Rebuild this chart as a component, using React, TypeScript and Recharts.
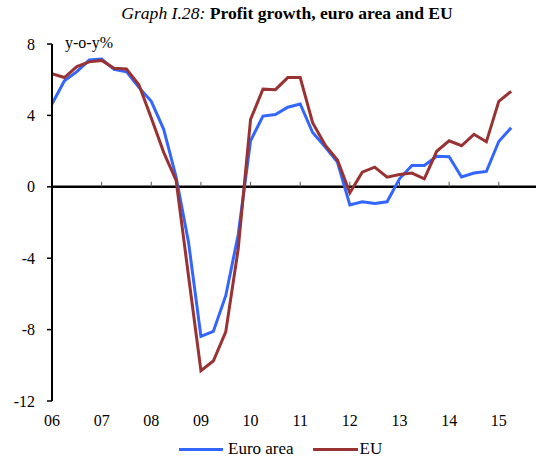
import React from 'react'
import { LineChart, Line, XAxis, YAxis, ReferenceLine } from 'recharts'

// quarterly, 2006Q1 .. 2015Q2
const yearLabels = ['06', '07', '08', '09', '10', '11', '12', '13', '14', '15']

const euroArea = [
  4.64, 5.94, 6.45, 7.1, 7.16, 6.58, 6.45, 5.57, 4.79, 3.22,
  0.55, -3.1, -8.38, -8.1, -6.1, -2.7, 2.58, 3.96, 4.05, 4.46,
  4.64, 3.04, 2.24, 1.38, -1.02, -0.84, -0.93, -0.84, 0.45, 1.19,
  1.19, 1.71, 1.69, 0.55, 0.77, 0.86, 2.54, 3.31,
]

const eu = [
  6.33, 6.12, 6.73, 7.0, 7.08, 6.64, 6.6, 5.72, 3.85, 1.93,
  0.36, -5.0, -10.3, -9.76, -8.13, -3.5, 3.78, 5.47, 5.44, 6.12,
  6.12, 3.59, 2.35, 1.5, -0.34, 0.82, 1.1, 0.54, 0.69, 0.77,
  0.45, 1.99, 2.58, 2.3, 2.94, 2.52, 4.79, 5.35,
]

const yTicks = [-12, -8, -4, 0, 4, 8]

const BLUE = '#3366ff'
const RED = '#993333'
const FONT = 'Liberation Serif'

const data = euroArea.map((v, i) => ({ i, euroArea: v, eu: eu[i] }))
const xTicks = yearLabels.map((_, k) => k * 4)

export default function App() {
  return (
    <div style={{ position: 'absolute', left: 0, top: 0, width: 536, height: 458, fontFamily: FONT, background: '#fff' }}>
      <div style={{ position: 'absolute', left: 0, width: 574, top: 3, textAlign: 'center', fontSize: 17.6, color: '#000', fontFamily: FONT }}>
        <i>Graph I.28:</i> <b>Profit growth, euro area and EU</b>
      </div>
      <div style={{ position: 'absolute', left: 65, top: 34, fontSize: 16, color: '#000', fontFamily: FONT }}>y-o-y%</div>

      <LineChart width={536} height={458} data={data} margin={{ top: 44, right: 0, bottom: 27, left: 0 }}>
        <XAxis
          type="number"
          dataKey="i"
          domain={[0, 39]}
          ticks={xTicks}
          tickFormatter={(v: number) => yearLabels[v / 4]}
          axisLine={false}
          tickLine={false}
          tickSize={0}
          tickMargin={14}
          height={30}
          tick={{ fill: '#000', fontSize: 16, fontFamily: FONT }}
        />
        <YAxis
          type="number"
          domain={[-12, 8]}
          ticks={yTicks}
          width={52}
          axisLine={{ stroke: '#000', strokeWidth: 2 }}
          tickLine={{ stroke: '#000', strokeWidth: 1.5 }}
          tickSize={5}
          tickMargin={12}
          tick={{ fill: '#000', fontSize: 16, fontFamily: FONT }}
        />
        <ReferenceLine y={0} stroke="#000" strokeWidth={2.5} />
        {xTicks.slice(1).map((t) => (
          <ReferenceLine
            key={t}
            segment={[{ x: t, y: 0 }, { x: t, y: 0.28 }]}
            stroke="#555"
            strokeWidth={1}
          />
        ))}
        <Line type="linear" dataKey="euroArea" name="Euro area" stroke={BLUE} strokeWidth={3} dot={false} isAnimationActive={false} />
        <Line type="linear" dataKey="eu" name="EU" stroke={RED} strokeWidth={3} dot={false} isAnimationActive={false} />
      </LineChart>

      <div style={{ position: 'absolute', top: 439, left: 179, display: 'flex', alignItems: 'center', fontSize: 17, color: '#000', whiteSpace: 'nowrap', fontFamily: FONT }}>
        <span style={{ display: 'inline-block', width: 44, height: 3, background: BLUE, marginRight: 5 }} />
        <span>Euro area</span>
        <span style={{ display: 'inline-block', width: 45, height: 3, background: RED, marginLeft: 19, marginRight: 2 }} />
        <span>EU</span>
      </div>
    </div>
  )
}
